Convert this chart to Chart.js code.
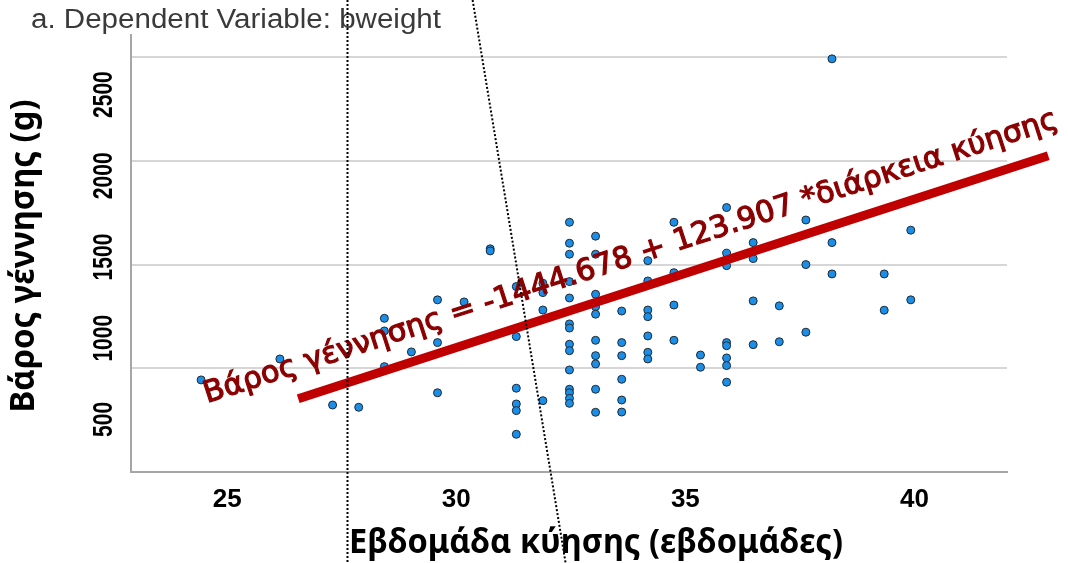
<!DOCTYPE html>
<html>
<head>
<meta charset="utf-8">
<script src="https://cdn.jsdelivr.net/npm/chart.js@4.4.1/dist/chart.umd.min.js"></script>
<style>
  html, body { margin: 0; padding: 0; background: #fff; }
  #wrap { width: 1068px; height: 563px; }
</style>
</head>
<body>
<div id="wrap"><canvas id="scatterChart" width="1068" height="563"></canvas></div>
<script>
const titleText = "a. Dependent Variable: bweight";
const xAxisTitle = "Εβδομάδα κύησης (εβδομάδες)";
const yAxisTitle = "Βάρος γέννησης (g)";
const equationText = "Βάρος γέννησης = -1444.678 + 123.907 *διάρκεια κύησης";

const xTickLabels = [25, 30, 35, 40];
const yTickLabels = [500, 1000, 1500, 2000, 2500];
const yGridValues = [500, 1000, 1500, 2000, 2500];

// x position of each column of dots, and the weights stacked in it
const weekColumns = [24.43, 26.15, 27.30, 27.87, 28.43, 29.02, 29.59, 30.17, 30.74, 31.31, 31.89, 32.47,
  33.04, 33.61, 34.18, 34.75, 35.33, 35.90, 36.48, 37.05, 37.63, 38.20, 39.34, 39.92];
const weightsByWeek = [
  [944],
  [1045],
  [823],
  [812],
  [1241, 1180, 1008],
  [1079],
  [1330, 1124, 882],
  [1320],
  [1576, 1566],
  [1394, 1153, 904, 828, 796, 682],
  [1410, 1365, 1281, 844],
  [1704, 1603, 1550, 1418, 1339, 1214, 1194, 1116, 1085, 992, 899, 882, 855, 831],
  [1637, 1550, 1357, 1297, 1261, 1135, 1061, 1021, 899, 788],
  [1276, 1124, 1061, 947, 847, 789],
  [1519, 1421, 1281, 1249, 1156, 1077, 1045],
  [1704, 1461, 1305, 1135],
  [1064, 1005],
  [1775, 1555, 1495, 1124, 1109, 1050, 1013, 933],
  [1606, 1529, 1325, 1114],
  [1301, 1128],
  [1715, 1500, 1174],
  [2492, 1606, 1455],
  [1455, 1280],
  [1666, 1330]
];

// the hand drawn red line
const fitLineWeeks = [26.55, 42.92];
const fitLineWeights = [853, 2025];

const points = [];
weekColumns.forEach((w, i) => {
  weightsByWeek[i].forEach((g) => points.push({ x: w, y: g }));
});
const fitLine = fitLineWeeks.map((w, i) => ({ x: w, y: fitLineWeights[i] }));

function fitText(ctx, text, font, width, x, y, angle, outline) {
  ctx.save();
  ctx.font = font;
  const w = ctx.measureText(text).width;
  ctx.translate(x, y);
  ctx.rotate(angle);
  ctx.scale(width / w, 1);
  ctx.fillText(text, 0, 0);
  if (outline) {
    ctx.lineWidth = outline;
    ctx.strokeStyle = ctx.fillStyle;
    ctx.strokeText(text, 0, 0);
  }
  ctx.restore();
}

const overlay = {
  id: "overlay",
  afterDraw(chart) {
    const ctx = chart.ctx;
    const area = chart.chartArea;
    const xs = chart.scales.x;
    const ys = chart.scales.yLab;
    ctx.save();

    // title
    ctx.fillStyle = "#3a3a3a";
    ctx.textAlign = "left";
    ctx.textBaseline = "alphabetic";
    fitText(ctx, titleText, "27px 'Liberation Sans', Arial, sans-serif", 410, 31, 28, 0);

    // tick labels
    ctx.fillStyle = "#000";
    ctx.textAlign = "center";
    ctx.font = "bold 26px 'Liberation Sans', Arial, sans-serif";
    xTickLabels.forEach((v) => {
      ctx.fillText(String(v), xs.getPixelForValue(v), area.bottom + 35);
    });
    yTickLabels.forEach((v) => {
      const s = String(v);
      fitText(ctx, s, "bold 27px 'Liberation Sans', Arial, sans-serif", s.length * 11.7,
        area.left - 19, ys.getPixelForValue(v), -Math.PI / 2);
    });

    // axis titles
    fitText(ctx, yAxisTitle, "bold 34px 'Noto Sans', sans-serif", 313, 34, 256, -Math.PI / 2);
    fitText(ctx, xAxisTitle, "bold 34px 'Noto Sans', sans-serif", 494, 596, 553, 0);

    // equation text along the red line
    const meta = chart.getDatasetMeta(0).data;
    const p0 = meta[0], p1 = meta[1];
    const ang = Math.atan2(p1.y - p0.y, p1.x - p0.x);
    const ux = Math.cos(ang), uy = Math.sin(ang);
    const nx = Math.sin(ang), ny = -Math.cos(ang);
    const ox = p0.x - 88 * ux + 24 * nx;
    const oy = p0.y - 88 * uy + 24 * ny;
    ctx.fillStyle = "#8b0000";
    ctx.textAlign = "left";
    fitText(ctx, equationText, "30px 'DejaVu Sans', sans-serif", 896, ox, oy, ang, 1.2);

    // dotted guide lines over everything
    const H = chart.height;
    ctx.strokeStyle = "#000";
    ctx.lineWidth = 2;
    ctx.setLineDash([2, 2]);
    ctx.beginPath();
    ctx.moveTo(347.5, 0);
    ctx.lineTo(347.5, H);
    ctx.stroke();
    ctx.beginPath();
    ctx.moveTo(472.6, 0);
    ctx.lineTo(565.6, H);
    ctx.stroke();
    ctx.restore();
  }
};

new Chart(document.getElementById("scatterChart"), {
  type: "scatter",
  data: {
    datasets: [
      {
        type: "line",
        data: fitLine,
        borderColor: "#c00000",
        borderWidth: 9,
        borderCapStyle: "butt",
        pointRadius: 0,
        fill: false,
        clip: false,
        order: 0
      },
      {
        data: points,
        backgroundColor: "#1c8ee6",
        borderColor: "#1d2a36",
        borderWidth: 1,
        pointRadius: 4,
        order: 1
      }
    ]
  },
  options: {
    responsive: false,
    animation: false,
    devicePixelRatio: 1,
    layout: { padding: { left: 131, right: 61, top: 35, bottom: 91 } },
    plugins: {
      legend: { display: false },
      tooltip: { enabled: false }
    },
    scales: {
      x: {
        type: "linear",
        min: 22.9,
        max: 42.02,
        grid: { display: false, drawTicks: false },
        border: { display: true, color: "#a6a6a6", width: 2 },
        ticks: { display: false }
      },
      y: {
        type: "linear",
        min: 500,
        max: 2607,
        grid: { color: "#d6d6d6", lineWidth: 2, drawTicks: false },
        border: { display: true, color: "#a6a6a6", width: 2 },
        ticks: { display: false },
        afterBuildTicks: (scale) => {
          scale.ticks = yGridValues.map((v) => ({ value: v }));
        }
      },
      yLab: {
        type: "linear",
        display: false,
        min: 176,
        max: 2867
      }
    }
  },
  plugins: [overlay]
});
</script>
</body>
</html>
